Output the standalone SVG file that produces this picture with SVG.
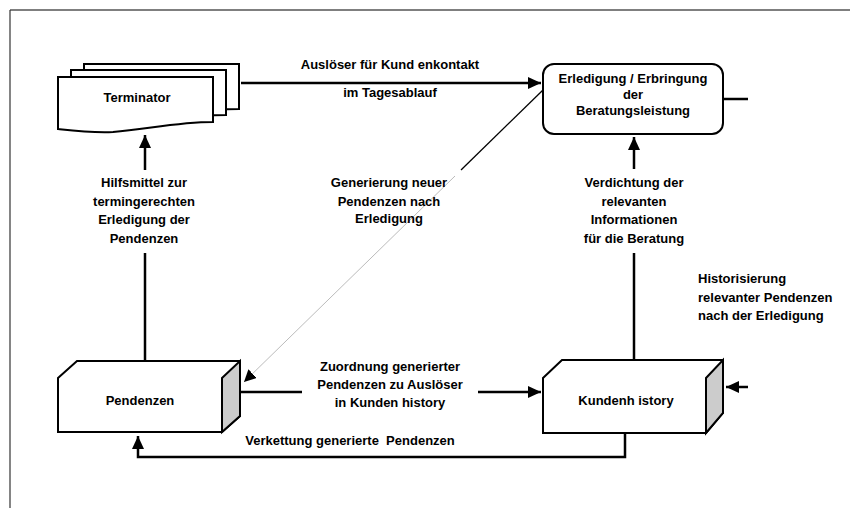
<svg xmlns="http://www.w3.org/2000/svg" width="850" height="508" viewBox="0 0 850 508">
<style>
text{font-family:"Liberation Sans",Arial,sans-serif;font-size:13px;font-weight:bold;fill:#000;}
.c{text-anchor:middle;}
.shape{fill:#fff;stroke:#000;stroke-width:2;stroke-linejoin:miter;}
.conn{fill:none;stroke:#000;stroke-width:2.5;}
.side{fill:#cccccc;stroke:#000;stroke-width:2;}
</style>
<defs>
<marker id="ah" markerUnits="userSpaceOnUse" markerWidth="14" markerHeight="12" refX="13" refY="6" orient="auto">
<path d="M0,0 L13,6 L0,12 z" fill="#000"/>
</marker>
<marker id="ahs" markerUnits="userSpaceOnUse" markerWidth="13" markerHeight="12" refX="12" refY="6" orient="auto">
<path d="M0,0 L12,6 L0,12 z" fill="#000"/>
</marker>
<path id="doc" d="M0,0 H155 V45 C120,45 90,52 55,55 C35,56 18,54 0,52 Z"/>
</defs>
<g id="frame">
<line x1="10" y1="10" x2="850" y2="10" stroke="#000" stroke-width="1.2"/>
<line x1="10" y1="10" x2="10" y2="508" stroke="#333" stroke-width="1.2"/>
</g>
<g id="connectors">
<path class="conn" d="M241,83 H541" marker-end="url(#ah)"/>
<path class="conn" d="M145,361 V253"/>
<path class="conn" d="M145,170 V135" marker-end="url(#ah)"/>
<path class="conn" d="M634,360 V253"/>
<path class="conn" d="M634,169 V137" marker-end="url(#ah)"/>
<path d="M543,90 L461,170" fill="none" stroke="#000" stroke-width="1.3"/>
<path d="M455,176 L244,382" fill="none" stroke="#aaa" stroke-width="0.8" marker-end="url(#ahs)"/>
<path class="conn" d="M240,392 H302"/>
<path class="conn" d="M478,392 H541" marker-end="url(#ah)"/>
<path class="conn" d="M748,387 H726" marker-end="url(#ah)"/>
<path class="conn" d="M625,433 V457 H138 V436" marker-end="url(#ah)"/>
<path class="conn" d="M723,99 H748"/>
</g>
<g id="terminator">
<use href="#doc" class="shape" transform="translate(84,64)"/>
<use href="#doc" class="shape" transform="translate(71,70)"/>
<use href="#doc" class="shape" transform="translate(58,77)"/>
<text class="c" x="137" y="102">Terminator</text>
</g>
<g id="erledigung">
<rect class="shape" x="543" y="64" width="180" height="70" rx="11" ry="11"/>
<text class="c" x="633" y="83">Erledigung / Erbringung</text>
<text class="c" x="633" y="99">der</text>
<text class="c" x="633" y="115">Beratungsleistung</text>
</g>
<g id="pendenzen">
<path class="shape" d="M58,378 L77,361 H240 V416 L222,432 H58 Z"/>
<path class="side" d="M222,378 L240,361 V416 L222,432 Z"/>
<text class="c" x="140" y="405">Pendenzen</text>
</g>
<g id="kundenhistory">
<path class="shape" d="M543,378 L562,360 H723 V413 L706,433 H543 Z"/>
<path class="side" d="M706,378 L723,360 V413 L706,433 Z"/>
<text class="c" x="626" y="405">Kundenh istory</text>
</g>
<g id="labels">
<text class="c" x="390" y="69">Auslöser für Kund enkontakt</text>
<text class="c" x="390" y="97">im Tagesablauf</text>
<text class="c" x="144" y="187">Hilfsmittel zur</text>
<text class="c" x="144" y="206">termingerechten</text>
<text class="c" x="144" y="224">Erledigung der</text>
<text class="c" x="144" y="243">Pendenzen</text>
<text class="c" x="389" y="187">Generierung neuer</text>
<text class="c" x="389" y="206">Pendenzen nach</text>
<text class="c" x="389" y="223">Erledigung</text>
<text class="c" x="634" y="187">Verdichtung der</text>
<text class="c" x="634" y="206">relevanten</text>
<text class="c" x="634" y="224">Informationen</text>
<text class="c" x="634" y="243">für die Beratung</text>
<text x="698" y="283">Historisierung</text>
<text x="698" y="302">relevanter Pendenzen</text>
<text x="698" y="320">nach der Erledigung</text>
<text class="c" x="390" y="371">Zuordnung generierter</text>
<text class="c" x="390" y="389">Pendenzen zu Auslöser</text>
<text class="c" x="390" y="407">in Kunden history</text>
<text class="c" x="350" y="445" xml:space="preserve">Verkettung generierte  Pendenzen</text>
</g>
</svg>
